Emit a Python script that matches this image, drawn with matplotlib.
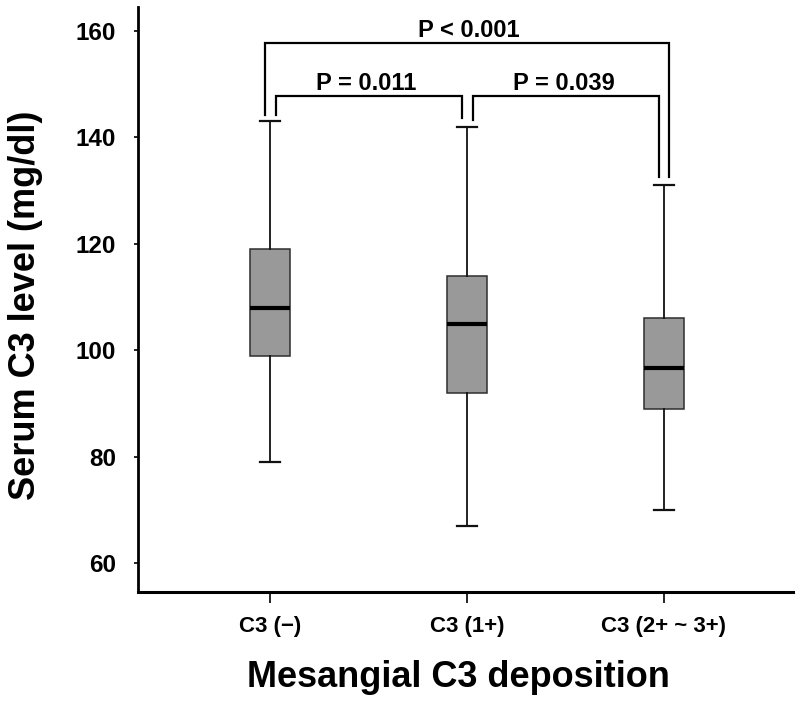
import matplotlib
matplotlib.use('Agg')
import matplotlib.pyplot as plt

plt.rcParams['font.family'] = ['Liberation Sans', 'DejaVu Sans']
plt.rcParams['font.weight'] = 'bold'

# summary stats (mg/dl)
groups = ['C3 (\u2212)', 'C3 (1+)', 'C3 (2+ ~ 3+)']
whislo = [79, 67, 70]
q1 = [99, 92, 89]
med = [108, 105, 96.7]
q3 = [119, 114, 106]
whishi = [143, 142, 131]

# pairwise comparisons: (group i, group j, label)
pairs = [(1, 3, 'P < 0.001'), (1, 2, 'P = 0.011'), (2, 3, 'P = 0.039')]
bracket_y = [157.7, 147.8, 147.8]

fig = plt.figure(figsize=(7.96, 7.07), dpi=100)
ax = fig.add_axes([0.1734, 0.1627, 0.8226, 0.8273])

stats = []
for i in range(len(groups)):
    stats.append(dict(label=groups[i], whislo=whislo[i], q1=q1[i], med=med[i],
                      q3=q3[i], whishi=whishi[i], fliers=[]))

ax.bxp(stats, positions=[1, 2, 3], widths=0.2, patch_artist=True, showfliers=False,
       boxprops=dict(facecolor='#999999', edgecolor='#2e2e2e', linewidth=1.1),
       medianprops=dict(color='black', linewidth=3),
       whiskerprops=dict(color='#111111', linewidth=1.3),
       capprops=dict(color='#111111', linewidth=1.6), capwidths=0.1)

# significance brackets
for (a, b, txt), yb in zip(pairs, bracket_y):
    off_a = 0.03 if (a, b) != (1, 3) else -0.025
    off_b = -0.025 if (a, b) != (1, 3) else 0.025
    xa, xb = a + off_a, b + off_b
    ya, yb_end = whishi[a - 1] + 1.3, whishi[b - 1] + 1.6
    ax.plot([xa, xa, xb, xb], [ya, yb, yb, yb_end], color='black', lw=1.6,
            solid_joinstyle='miter', clip_on=False)
    ax.text((a + b) / 2 + (0.01 if (a, b) == (1, 3) else -0.01), yb + 1.1, txt,
            ha='center', va='baseline', fontsize=17, fontweight='bold')

ax.set_xlim(0.33, 3.655)
ax.set_ylim(54.6, 164.5)
ax.set_yticks([60, 80, 100, 120, 140, 160])
ax.set_xticks([1, 2, 3])
ax.set_xticklabels(groups)

for s in ['top', 'right']:
    ax.spines[s].set_visible(False)
ax.spines['left'].set_linewidth(2)
ax.spines['bottom'].set_linewidth(2.2)

ax.tick_params(axis='y', length=3, width=1.2, labelsize=17.5, pad=13)
ax.tick_params(axis='x', length=8, width=1.2, labelsize=16, pad=9)
for lab in ax.get_xticklabels() + ax.get_yticklabels():
    lab.set_fontweight('bold')

ax.set_ylabel('Serum C3 level (mg/dl)', fontsize=26, fontweight='bold')
ax.yaxis.set_label_coords(-0.145, 0.49)
ax.set_xlabel('Mesangial C3 deposition', fontsize=26, fontweight='bold')
ax.xaxis.set_label_coords(0.49, -0.116)

fig.savefig('out.png', dpi=100, facecolor='white')
